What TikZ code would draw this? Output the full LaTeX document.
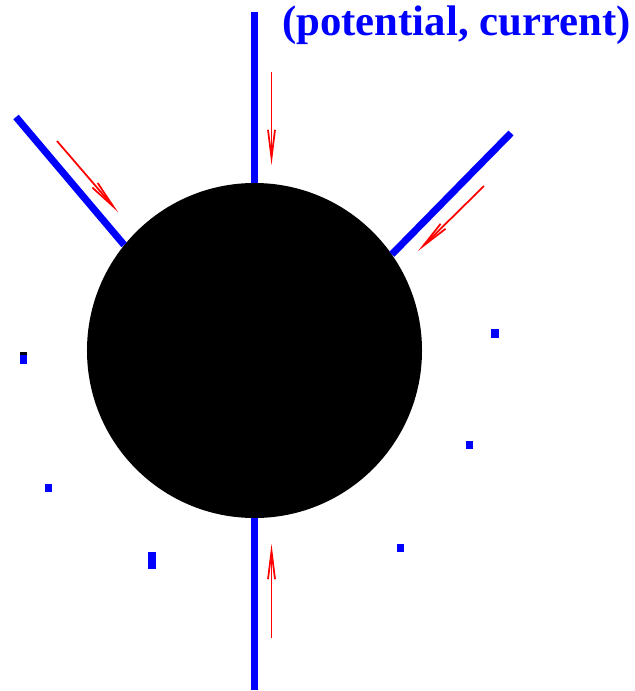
\documentclass[tikz,border=0pt]{standalone}
\usepackage{fontspec}
\setmainfont{Liberation Serif}
\usetikzlibrary{arrows.meta}

\begin{document}
\begin{tikzpicture}[
        x=0.03cm, y=-0.03cm,
        fio/.style={draw=blue, line width=6pt},
        seta/.style={red, line width=1.5pt, -{Straight Barb[length=24pt, width=6pt]}},
        ponto/.style={fill=blue}
    ]
        \useasboundingbox (0,0) rectangle (634,691);

        \node[circle, fill=black, inner sep=0pt, minimum size=10.05cm] (corpo) at (254.5,350.5) {};

        % fios
        \coordinate (fcima) at (254.5,12);
        \coordinate (fbaixo) at (254.5,690);
        \coordinate (fesq) at (16,117);
        \coordinate (fdir) at (511,133);
        \draw[fio] (fcima) -- (corpo.north);
        \draw[fio] (fbaixo) -- (corpo.south);
        \draw[fio] (fesq) -- (corpo.141);
        \draw[fio] (fdir) -- (corpo.35);

        % correntes
        \coordinate (c1a) at (271.5,72);  \coordinate (c1b) at (271.5,165);
        \coordinate (c2a) at (271.5,638); \coordinate (c2b) at (271.5,544);
        \coordinate (c3a) at (57,141);    \coordinate (c3b) at (118,212);
        \coordinate (c4a) at (484,186);   \coordinate (c4b) at (418,251);
        \draw[seta] (c1a) -- (c1b);
        \draw[seta] (c2a) -- (c2b);
        \draw[seta] (c3a) -- (c3b);
        \draw[seta] (c4a) -- (c4b);

        % pontinhos
        \fill[black] (20,352) rectangle (27,355);
        \fill[ponto] (20,355) rectangle (27,364);
        \fill[ponto] (45,484) rectangle (52,492);
        \fill[ponto] (148,552) rectangle (156,569);
        \fill[ponto] (397,544) rectangle (404,552);
        \fill[ponto] (491,329) rectangle (499,338);
        \fill[ponto] (466,441) rectangle (473,449);

        \node[anchor=base west, inner sep=0pt, text=blue, font=\fontsize{36.5}{40}\selectfont\bfseries] (rotulo) at (282,35) {(potential, current)};

    \end{tikzpicture}
\end{document}
